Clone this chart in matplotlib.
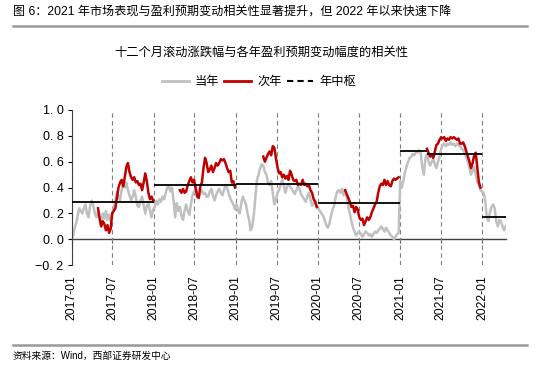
import pandas as pd
import numpy as np
import matplotlib
matplotlib.use('Agg')
import matplotlib.pyplot as plt
import matplotlib.dates as mdates
from matplotlib.lines import Line2D

plt.rcParams['font.family'] = ['Liberation Sans', 'Noto Sans CJK SC']
plt.rcParams['axes.unicode_minus'] = True

# 当年: weekly values, 2017-01-06 .. 2022-04-15
cur_year = [
    # 2017
    0.02, 0.08, 0.12, 0.18, 0.24, 0.22, 0.20, 0.24, 0.27, 0.20, 0.17, 0.26, 0.30,
    0.26, 0.20, 0.17, 0.21, 0.18, 0.14, 0.20, 0.16, 0.22, 0.15, 0.19, 0.14, 0.20,
    0.24, 0.30, 0.37, 0.33, 0.30, 0.38, 0.43, 0.40, 0.44, 0.38, 0.34, 0.30, 0.33,
    0.38, 0.33, 0.26, 0.25, 0.30, 0.33, 0.26, 0.20, 0.26, 0.28, 0.22, 0.17, 0.23,
    # 2018
    0.25, 0.30, 0.27, 0.31, 0.29, 0.33, 0.31, 0.36, 0.40, 0.41, 0.37, 0.40, 0.30,
    0.17, 0.28, 0.22, 0.25, 0.18, 0.15, 0.22, 0.27, 0.22, 0.19, 0.27, 0.34, 0.37,
    0.39, 0.36, 0.33, 0.36, 0.38, 0.35, 0.36, 0.33, 0.33, 0.37, 0.39, 0.34, 0.30,
    0.34, 0.37, 0.39, 0.36, 0.34, 0.38, 0.42, 0.40, 0.35, 0.32, 0.29, 0.27, 0.23,
    # 2019
    0.27, 0.22, 0.20, 0.28, 0.33, 0.30, 0.27, 0.20, 0.15, 0.07, 0.10, 0.19, 0.33,
    0.46, 0.50, 0.55, 0.58, 0.57, 0.52, 0.50, 0.44, 0.42, 0.45, 0.36, 0.27, 0.30,
    0.36, 0.38, 0.42, 0.46, 0.42, 0.36, 0.40, 0.43, 0.41, 0.39, 0.37, 0.35, 0.38,
    0.41, 0.39, 0.35, 0.33, 0.31, 0.29, 0.33, 0.36, 0.31, 0.26, 0.28, 0.30, 0.25,
    # 2020
    0.24, 0.22, 0.20, 0.18, 0.15, 0.11, 0.09, 0.12, 0.18, 0.23, 0.26, 0.33, 0.37,
    0.38, 0.36, 0.39, 0.34, 0.37, 0.33, 0.25, 0.20, 0.14, 0.09, 0.06, 0.03, 0.05,
    0.06, 0.04, 0.02, 0.04, 0.06, 0.05, 0.03, 0.04, 0.02, 0.04, 0.06, 0.05, 0.07,
    0.08, 0.10, 0.08, 0.06, 0.09, 0.07, 0.05, 0.03, 0.02, 0.00, 0.02, 0.04, 0.05,
    # 2021
    0.45, 0.40, 0.45, 0.52, 0.56, 0.60, 0.63, 0.64, 0.66, 0.65, 0.68, 0.67, 0.69,
    0.67, 0.56, 0.50, 0.62, 0.66, 0.60, 0.57, 0.60, 0.62, 0.58, 0.55, 0.60, 0.64,
    0.70, 0.73, 0.74, 0.72, 0.74, 0.73, 0.75, 0.73, 0.74, 0.72, 0.74, 0.73, 0.72,
    0.70, 0.69, 0.67, 0.63, 0.60, 0.55, 0.50, 0.53, 0.56, 0.50, 0.44, 0.42, 0.38,
    # 2022
    0.37, 0.36, 0.30, 0.17, 0.14, 0.21, 0.25, 0.27, 0.24, 0.14, 0.10, 0.15, 0.14,
    0.10, 0.07, 0.10,
]

# 次年: weekly values, from early May to year end
next_start = ['2017-04-28', '2018-04-27', '2019-05-03', '2020-05-01', '2021-04-30']
next_year = [
    [0.24, 0.16, 0.10, 0.14, 0.12, 0.07, 0.11, 0.05, 0.08, 0.20, 0.22, 0.24,
     0.32, 0.40, 0.44, 0.46, 0.41, 0.48, 0.56, 0.59, 0.52, 0.48, 0.46, 0.48,
     0.44, 0.45, 0.42, 0.43, 0.38, 0.44, 0.51, 0.45, 0.36, 0.31, 0.33, 0.30],
    [0.38, 0.36, 0.39, 0.36, 0.37, 0.42, 0.45, 0.48, 0.44, 0.46, 0.40, 0.33,
     0.32, 0.41, 0.44, 0.55, 0.63, 0.59, 0.52, 0.54, 0.57, 0.52, 0.55, 0.59,
     0.57, 0.59, 0.62, 0.61, 0.62, 0.59, 0.55, 0.52, 0.53, 0.44, 0.45, 0.40],
    [0.64, 0.60, 0.63, 0.66, 0.68, 0.65, 0.72, 0.71, 0.63, 0.56, 0.51, 0.52,
     0.48, 0.50, 0.47, 0.49, 0.46, 0.53, 0.50, 0.46, 0.45, 0.46, 0.42, 0.43,
     0.42, 0.46, 0.42, 0.43, 0.41, 0.42, 0.38, 0.36, 0.31, 0.29, 0.25],
    [0.38, 0.35, 0.32, 0.29, 0.25, 0.26, 0.21, 0.25, 0.23, 0.17, 0.15, 0.16,
     0.11, 0.14, 0.17, 0.15, 0.17, 0.21, 0.24, 0.27, 0.29, 0.36, 0.41, 0.43,
     0.42, 0.46, 0.42, 0.45, 0.42, 0.41, 0.45, 0.47, 0.46, 0.47, 0.48],
    [0.70, 0.67, 0.64, 0.65, 0.63, 0.68, 0.73, 0.74, 0.77, 0.79, 0.78, 0.79,
     0.76, 0.78, 0.77, 0.79, 0.78, 0.79, 0.78, 0.77, 0.78, 0.74, 0.74, 0.75,
     0.72, 0.68, 0.64, 0.60, 0.55, 0.59, 0.65, 0.67, 0.55, 0.44, 0.40],
]

# 年中枢
center_from = ['2017-01-01', '2018-01-01', '2019-01-01', '2020-01-01', '2021-01-01', '2021-05-01', '2022-01-01']
center_to = ['2018-01-01', '2019-01-01', '2020-01-01', '2021-01-01', '2021-05-01', '2022-01-01', '2022-04-15']
center_val = [0.286, 0.42, 0.425, 0.283, 0.683, 0.66, 0.175]

tick_dates = pd.date_range('2017-01-01', '2022-01-01', freq='6MS')
y_ticks = [-0.2, 0.0, 0.2, 0.4, 0.6, 0.8, 1.0]

gray = '#C0C0C0'
red = '#C00000'

fig = plt.figure(figsize=(5.5, 3.69), dpi=100)
ax = fig.add_axes([0.1304, 0.2813, 0.789, 0.4206])

weeks = pd.date_range('2017-01-06', periods=len(cur_year), freq='7D')
ax.plot(weeks, cur_year, color=gray, lw=1.8, zorder=2)
for start, vals in zip(next_start, next_year):
    d = pd.date_range(start, periods=len(vals), freq='7D')
    ax.plot(d, vals, color=red, lw=1.8, zorder=3)

ax.hlines(center_val, pd.to_datetime(center_from), pd.to_datetime(center_to),
          color='black', lw=1.3, zorder=4)

ax.set_xlim(pd.Timestamp('2017-01-01'), pd.Timestamp('2022-04-15'))
ax.set_ylim(-0.2, 1.0)
ax.set_yticks(y_ticks)
ax.set_yticklabels([f'{v:.1f}'.replace('.', '. ').replace('-', '\u2212') for v in y_ticks], fontsize=9)
ax.set_xticks(tick_dates)
ax.set_xticklabels([d.strftime('%Y-%m') for d in tick_dates], rotation=90, fontsize=8.7)
ax.tick_params(axis='x', length=0, pad=7)
ax.tick_params(axis='y', length=3, width=0.8, direction='out', pad=3)
ax.grid(axis='x', linestyle=(0, (4, 3)), color='#7F7F7F', lw=0.8)
for s in ['top', 'right', 'bottom']:
    ax.spines[s].set_visible(False)
ax.spines['left'].set_color('#404040')

# zero line with small ticks
zero_ax = ax.secondary_xaxis(1 / 6)
zero_ax.set_xticks(mdates.date2num(tick_dates))
zero_ax.tick_params(length=3, width=0.8, labelbottom=False, color='#404040')
zero_ax.spines['bottom'].set_color('#404040')
zero_ax.spines['bottom'].set_linewidth(1.0)

handles = [Line2D([], [], color=gray, lw=2),
           Line2D([], [], color=red, lw=2),
           Line2D([], [], color='black', lw=1.5, ls=(0, (3, 2)))]
fig.legend(handles, ['当年', '次年', '年中枢'], loc='center', bbox_to_anchor=(259 / 550, 1 - 82 / 369),
           ncol=3, frameon=False, fontsize=8.8, handlelength=2.2, handletextpad=0.5,
           columnspacing=0.4)

fig.text(261 / 550, 1 - 53 / 369, '十二个月滚动涨跌幅与各年盈利预期变动幅度的相关性',
         ha='center', va='center', fontsize=8.8)
fig.text(13 / 550, 1 - 12 / 369,
         '图 6：2021 年市场表现与盈利预期变动相关性显著提升，但 2022 年以来快速下降',
         ha='left', va='center', fontsize=8.7)
fig.add_artist(Line2D([13 / 550, 527 / 550], [1 - 26 / 369] * 2, color='#999999', lw=1.8))
fig.add_artist(Line2D([13 / 550, 527 / 550], [1 - 345 / 369] * 2, color='#999999', lw=1.8))
fig.text(13 / 550, 1 - 356 / 369, '资料来源：Wind，西部证券研发中心', ha='left', va='center', fontsize=7)

fig.savefig('out.png', dpi=100)
